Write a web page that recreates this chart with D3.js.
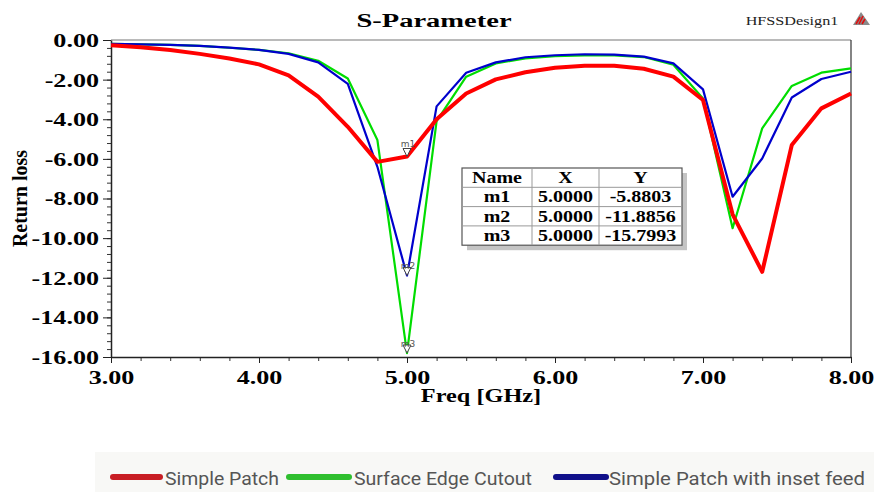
<!DOCTYPE html>
<html>
<head>
<meta charset="utf-8">
<script src="https://cdn.jsdelivr.net/npm/d3@7"></script>
<style>
  body { margin: 0; background: #fff; }
  svg { display: block; }
</style>
</head>
<body>
<svg id="chart" width="874" height="492"></svg>
<script>
// S-Parameter plot (HFSS style) - return loss vs frequency

const freq = [3.0, 3.2, 3.4, 3.6, 3.8, 4.0, 4.2, 4.4, 4.6, 4.8, 5.0, 5.2, 5.4,
              5.6, 5.8, 6.0, 6.2, 6.4, 6.6, 6.8, 7.0, 7.2, 7.4, 7.6, 7.8, 8.0];

const simplePatch = [-0.27, -0.37, -0.5, -0.7, -0.93, -1.23, -1.78, -2.86, -4.38, -6.15, -5.88, -4.0, -2.7,
                     -1.99, -1.63, -1.4, -1.3, -1.3, -1.45, -1.85, -3.03, -8.8, -11.7, -5.3, -3.45, -2.7];
const edgeCutout = [-0.2, -0.22, -0.25, -0.3, -0.39, -0.5, -0.67, -1.05, -1.94, -5.05, -15.8, -4.1, -1.85,
                    -1.18, -0.93, -0.81, -0.78, -0.78, -0.86, -1.25, -2.95, -9.5, -4.46, -2.32, -1.65, -1.43];
const insetFeed = [-0.2, -0.22, -0.25, -0.3, -0.38, -0.5, -0.7, -1.13, -2.22, -6.4, -11.89, -3.35, -1.65,
                   -1.13, -0.87, -0.77, -0.72, -0.74, -0.84, -1.18, -2.49, -7.91, -5.98, -2.9, -1.97, -1.6];

const seriesNames = ['Simple Patch', 'Surface Edge Cutout', 'Simple Patch with inset feed'];

const xTicks = [3, 4, 5, 6, 7, 8];
const yTicks = [0, -2, -4, -6, -8, -10, -12, -14, -16];

// marker table
const markerNames = ['m1', 'm2', 'm3'];
const markerX = [5.0, 5.0, 5.0];
const markerY = [-5.8803, -11.8856, -15.7993];

const svg = d3.select('#chart');
const serif = 'Liberation Serif, Times New Roman, serif';
const SX = 1.45; // source image is stretched sideways

const margin = { left: 111, right: 22, top: 40, bottom: 135 };
const W = 874, H = 492;

let x = d3.scaleLinear().domain([3, 8]).range([margin.left, W - margin.right - 1]);
let y = d3.scaleLinear().domain([-16, 0]).range([357, margin.top]);

//stretched text helper
function stext(g, tx, ty, str, size, sx, anchor) {
    return g.append('text')
        .attr('transform', `translate(${tx},${ty}) scale(${sx},1)`)
        .attr('font-family', serif)
        .attr('font-size', size + 'px')
        .attr('text-anchor', anchor || 'middle')
        .text(str);
}

// title + design name
stext(svg, 434, 27, 'S-Parameter', 19, 1.5).attr('font-weight', 'bold');
stext(svg, 792, 25, 'HFSSDesign1', 13.5, 1.2).attr('fill', '#222');

// little logo
let logo = svg.append('g').attr('transform', 'translate(853,12)');
logo.append('path').attr('d', 'M8,0 L17,13 L0,13 Z').attr('fill', '#8a8a8a');
logo.append('path').attr('d', 'M6,12 L10,4 M9,12 L12,7 M3,12 L7,5').attr('stroke', '#e01010').attr('stroke-width', 1.6);

// frame (top + right)
svg.append('line').attr('x1', x(3)).attr('x2', x(8)).attr('y1', y(0)).attr('y2', y(0))
    .attr('stroke', '#777').attr('stroke-width', 1.2);
svg.append('line').attr('x1', x(8)).attr('x2', x(8)).attr('y1', y(0)).attr('y2', y(-16))
    .attr('stroke', '#333').attr('stroke-width', 1.2);

// y axis
let yMinor = d3.range(0, -16.01, -0.4);
svg.append('g').attr('transform', `translate(${x(3)},0)`)
    .call(d3.axisLeft(y).tickValues(yMinor).tickSize(4).tickFormat(''))
    .call(g => g.select('.domain').remove())
    .selectAll('line').attr('stroke', '#333');

let yAx = svg.append('g').attr('transform', `translate(${x(3)},0)`)
    .call(d3.axisLeft(y).tickValues(yTicks).tickSize(8).tickSizeOuter(0).tickFormat(d => d.toFixed(2)));
yAx.select('.domain').attr('stroke', '#222').attr('stroke-width', 1.5);
yAx.selectAll('line').attr('stroke', '#222');
yAx.selectAll('text')
    .attr('x', 0).attr('dy', '0.36em')
    .attr('transform', `translate(-12,0) scale(${SX},1)`)
    .attr('font-family', serif).attr('font-size', '18px').attr('font-weight', 'bold').attr('fill', '#000');

// x axis
let xMinor = d3.range(3, 8.01, 0.2);
svg.append('g').attr('transform', `translate(0,${y(-16)})`)
    .call(d3.axisBottom(x).tickValues(xMinor).tickSize(4).tickFormat(''))
    .call(g => g.select('.domain').remove())
    .selectAll('line').attr('stroke', '#333');

let xAx = svg.append('g').attr('transform', `translate(0,${y(-16)})`)
    .call(d3.axisBottom(x).tickValues(xTicks).tickSize(6).tickSizeOuter(0).tickFormat(d => d.toFixed(2)));
xAx.select('.domain').attr('stroke', '#222').attr('stroke-width', 1.5);
xAx.selectAll('line').attr('stroke', '#222');
xAx.selectAll('text')
    .attr('y', 0).attr('dy', 0)
    .attr('transform', `translate(0,27) scale(${SX},1)`)
    .attr('font-family', serif).attr('font-size', '18px').attr('font-weight', 'bold').attr('fill', '#000');

// axis titles
stext(svg, 481, 402, 'Freq [GHz]', 18, 1.35).attr('font-weight', 'bold');
svg.append('text')
    .attr('transform', `translate(27,${(y(0) + y(-16)) / 2}) rotate(-90)`)
    .attr('font-family', serif).attr('font-size', '20px').attr('font-weight', 'bold')
    .attr('text-anchor', 'middle')
    .text('Return loss');

// curves
const series = [
    { vals: edgeCutout, color: '#00dd00', w: 2.2 },
    { vals: insetFeed, color: '#0000cc', w: 2.2 },
    { vals: simplePatch, color: '#ff0000', w: 4 }
];

let lineFun = d3.line()
    .x((d, i) => x(freq[i]))
    .y(d => y(d));

series.forEach(s => {
    svg.append('path')
        .attr('d', lineFun(s.vals))
        .attr('fill', 'none')
        .attr('stroke', s.color)
        .attr('stroke-width', s.w)
        .attr('stroke-linejoin', 'round');
});

// markers
markerNames.forEach((m, i) => {
    let px = x(markerX[i]), py = y(markerY[i]);
    svg.append('path')
        .attr('d', `M${px - 4},${py - 8} L${px + 4},${py - 8} L${px},${py} Z`)
        .attr('fill', '#fff').attr('stroke', '#444').attr('stroke-width', 1);
    svg.append('text')
        .attr('x', px + 1).attr('y', py - (i === 0 ? 10 : 6))
        .attr('font-family', 'DejaVu Sans, sans-serif').attr('font-size', '9px')
        .attr('fill', '#555').attr('text-anchor', 'middle')
        .text(m);
});

// marker table
const tbl = { x: 462, y: 168, cols: [70, 67, 83], rowH: 19.3 };
const tW = d3.sum(tbl.cols), tH = tbl.rowH * 4;
let tg = svg.append('g');
tg.append('rect').attr('x', tbl.x + 5).attr('y', tbl.y + 5).attr('width', tW).attr('height', tH)
    .attr('fill', '#c4c4c4');
tg.append('rect').attr('x', tbl.x).attr('y', tbl.y).attr('width', tW).attr('height', tH)
    .attr('fill', '#fff').attr('stroke', '#555').attr('stroke-width', 1.2);
for (let r = 1; r < 4; r++) {
    tg.append('line').attr('x1', tbl.x).attr('x2', tbl.x + tW)
        .attr('y1', tbl.y + r * tbl.rowH).attr('y2', tbl.y + r * tbl.rowH)
        .attr('stroke', '#999');
}
let cx = tbl.x;
tbl.cols.slice(0, -1).forEach(c => {
    cx += c;
    tg.append('line').attr('x1', cx).attr('x2', cx).attr('y1', tbl.y).attr('y2', tbl.y + tH)
        .attr('stroke', '#999');
});
let colMid = tbl.cols.map((c, i) => tbl.x + d3.sum(tbl.cols.slice(0, i)) + c / 2);
let rows = [['Name', 'X', 'Y']].concat(markerNames.map((m, i) => [m, markerX[i].toFixed(4), markerY[i].toFixed(4)]));
rows.forEach((row, r) => {
    row.forEach((cell, c) => {
        stext(tg, colMid[c], tbl.y + r * tbl.rowH + 15, cell, 16, 1.25).attr('font-weight', 'bold');
    });
});

// legend band
svg.append('rect').attr('x', 95).attr('y', 452).attr('width', 779).attr('height', 40).attr('fill', '#f8f8f6');
const legColors = ['#c81e24', '#2fbf2f', '#10108a'];
const legLine = [[113, 160], [289, 349], [556, 606]];
const legText = [[165, 114], [354, 178], [609, 256]];
seriesNames.forEach((n, i) => {
    svg.append('line')
        .attr('x1', legLine[i][0]).attr('x2', legLine[i][1])
        .attr('y1', 477).attr('y2', 477)
        .attr('stroke', legColors[i]).attr('stroke-width', 6).attr('stroke-linecap', 'round');
    svg.append('text')
        .attr('x', legText[i][0]).attr('y', 485)
        .attr('font-family', 'Roboto, sans-serif').attr('font-size', '19px')
        .attr('fill', '#555')
        .attr('textLength', legText[i][1]).attr('lengthAdjust', 'spacingAndGlyphs')
        .text(n);
});
</script>
</body>
</html>
